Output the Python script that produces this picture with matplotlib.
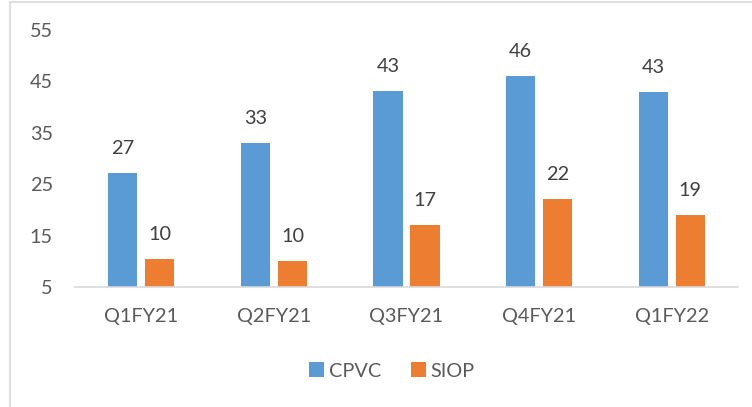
import numpy as np
import matplotlib
matplotlib.use("Agg")
import matplotlib.pyplot as plt
from matplotlib.patches import Rectangle

quarters = ["Q1FY21", "Q2FY21", "Q3FY21", "Q4FY21", "Q1FY22"]
cpvc = [27.2, 33, 43.2, 46.1, 43]
siop = [10.4, 10, 17, 22.1, 19]
yticks = [5, 15, 25, 35, 45, 55]

plt.rcParams['font.family'] = ['Lato', 'DejaVu Sans']
fs = 14.3
plt.rcParams['font.size'] = fs

fig = plt.figure(figsize=(7.52, 4.07), dpi=100)
ax = fig.add_axes([75/752, 1-287/407, (738-75)/752, (287-30)/407])

x = np.arange(len(quarters))
w = 0.22
b1 = ax.bar(x - 0.14, cpvc, w, color='#5B9BD5', label='CPVC')
b2 = ax.bar(x + 0.14, siop, w, color='#ED7D31', label='SIOP')

# value labels above each bar
for bars, vals in ((b1, cpvc), (b2, siop)):
    for r, v in zip(bars, vals):
        ax.annotate(f"{round(v)}", (r.get_x() + r.get_width()/2, v),
                    xytext=(0, 11.5), textcoords='offset points',
                    ha='center', va='bottom', color='#404040', fontsize=fs)

ax.set_ylim(5, 55)
ax.set_xlim(-0.5, 4.5)
ax.set_yticks(yticks)
ax.set_xticks(x)
ax.set_xticklabels(quarters)
ax.tick_params(axis='both', length=0, colors='#595959', labelsize=fs)
ax.tick_params(axis='y', pad=16)
ax.tick_params(axis='x', pad=15)
for s in ['top', 'right', 'left']:
    ax.spines[s].set_visible(False)
ax.spines['bottom'].set_color('#d9d9d9')
ax.spines['bottom'].set_linewidth(1.2)

leg = fig.legend(loc='center', bbox_to_anchor=(392/752, 1-371/407), ncol=2,
                 frameon=False, handlelength=0.75, handleheight=0.75,
                 handletextpad=0.25, columnspacing=1.5, fontsize=fs)
for t in leg.get_texts():
    t.set_color('#595959')

fig.add_artist(Rectangle((10/752, -0.1), 1.2, 1.1 - 2/407, transform=fig.transFigure,
                         fill=False, edgecolor='#d9d9d9', linewidth=1.2))

fig.savefig('out.png', dpi=100)
